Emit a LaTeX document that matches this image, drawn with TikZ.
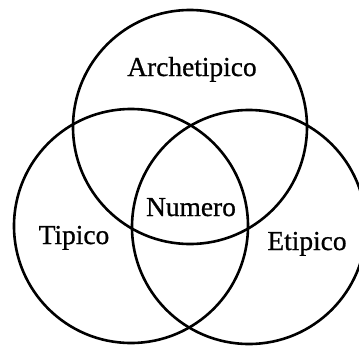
\documentclass[tikz,border=0pt]{standalone}
\usepackage{fontspec}
\setmainfont[FakeBold=0.8]{Liberation Serif}
\usetikzlibrary{positioning}
\tikzset{
  ring/.style={
    draw,
    circle,
    line width=2.6bp,
    minimum size=234bp,
    inner sep=0pt
  },
  setname/.style={
    anchor=base,
    inner sep=0pt,
    font=\fontsize{27.5}{32}\selectfont
  }
}

\begin{document}
\begin{tikzpicture}[x=1bp, y=-1bp]
  \useasboundingbox (0,0) rectangle (359,347);
  \node[ring] (arch) at (190,127) {};
  \node[ring] (tip) at (131,226) {};
  \node[ring] (etip) at (249,227) {};

  \node[setname] (archlabel) at (192,76) {Archetipico};
  \node[setname] (numlabel) at (191,216) {Numero};
  \node[setname] (tiplabel) at (74,244) {Tipico};
  \node[setname] (etiplabel) at (307,250) {Etipico};
\end{tikzpicture}
\end{document}
